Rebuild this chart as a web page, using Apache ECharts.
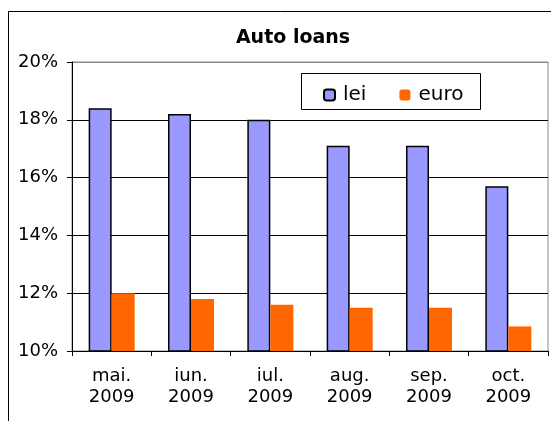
<!DOCTYPE html>
<html>
<head>
<meta charset="utf-8">
<script src="https://cdn.jsdelivr.net/npm/echarts@6/dist/echarts.min.js"></script>
<style>
  html, body { margin: 0; padding: 0; background: #fff; }
  #main { width: 551px; height: 421px; }
</style>
</head>
<body>
<div id="main"></div>
<script>
var chartDom = document.getElementById('main');
var myChart = echarts.init(chartDom);

var months = ['mai.\n2009', 'iun.\n2009', 'iul.\n2009', 'aug.\n2009', 'sep.\n2009', 'oct.\n2009'];
var lei = [18.4, 18.2, 18.0, 17.1, 17.1, 15.7];
var euro = [12.0, 11.8, 11.6, 11.5, 11.5, 10.85];

var font = 'DejaVu Sans, Verdana, sans-serif';

var option = {
  animation: false,
  title: {
    text: 'Auto loans',
    left: 288,
    textAlign: 'center',
    top: 24,
    textStyle: { fontFamily: font, fontSize: 19, fontWeight: 'bold', color: '#000' }
  },
  graphic: [
    {
      type: 'rect',
      shape: { x: 8.5, y: 11.5, width: 600, height: 500 },
      style: { fill: 'none', stroke: '#000', lineWidth: 1 },
      silent: true
    },
    {
      type: 'rect',
      shape: { x: 301.5, y: 73.5, width: 179, height: 36 },
      style: { fill: '#fff', stroke: '#000', lineWidth: 1 },
      z: 50
    }
  ],
  legend: {
    data: ['lei', 'euro'],
    left: 318,
    top: 80,
    itemWidth: 11,
    itemHeight: 11,
    itemGap: 33,
    z: 60,
    textStyle: { fontFamily: font, fontSize: 20, color: '#000', padding: [0, 0, 0, 3] }
  },
  grid: {
    left: 72,
    right: 3,
    top: 62,
    bottom: 70,
    show: true,
    borderColor: '#888',
    borderWidth: 1
  },
  xAxis: {
    type: 'category',
    data: months,
    axisLine: { lineStyle: { color: '#000', width: 1 } },
    axisTick: { show: true, length: 5, inside: false, lineStyle: { color: '#000' } },
    axisLabel: { fontFamily: font, fontSize: 18, color: '#000', lineHeight: 21, margin: 15 }
  },
  yAxis: {
    type: 'value',
    min: 10,
    max: 20,
    interval: 2,
    axisLine: { show: true, lineStyle: { color: '#000' } },
    axisTick: { show: true, length: 5, lineStyle: { color: '#000' } },
    splitLine: { lineStyle: { color: ['#000', '#000', '#000', '#000', '#000', '#888'], width: 1 } },
    axisLabel: {
      fontFamily: font, fontSize: 18, color: '#000', margin: 14,
      formatter: function (v) { return v + '%'; }
    }
  },
  series: [
    {
      name: 'lei',
      type: 'bar',
      data: lei,
      barWidth: 23,
      barGap: '0%',
      itemStyle: { color: '#9999FF', borderColor: '#000', borderWidth: 1.5 }
    },
    {
      name: 'euro',
      type: 'bar',
      data: euro,
      barWidth: 23,
      itemStyle: { color: '#FF6600' }
    }
  ]
};

option && myChart.setOption(option);
</script>
</body>
</html>
